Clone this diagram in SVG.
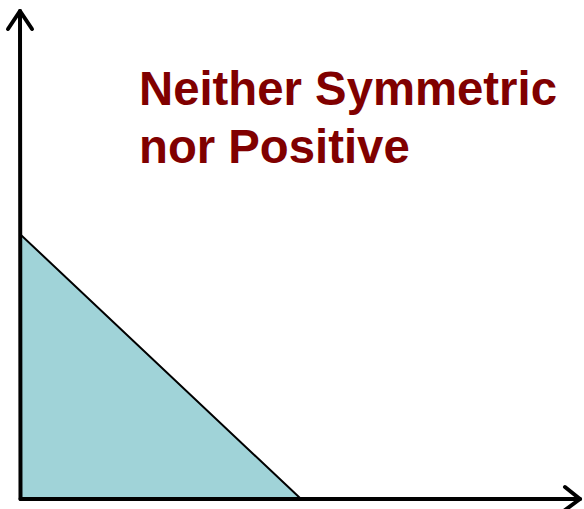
<svg xmlns="http://www.w3.org/2000/svg" width="584" height="509" viewBox="0 0 584 509">
<style>
.axis{fill:none;stroke:#000;stroke-width:4;stroke-linecap:round;stroke-linejoin:round}
.lbl{font-family:"Liberation Sans",Arial,sans-serif;font-weight:bold;font-size:47.3px;fill:#800000}
</style>
<rect width="584" height="509" fill="#fff"/>
<g id="region">
<polygon points="21,235 21,498 300,498" fill="#a0d3d8" stroke="#000" stroke-width="2"/>
</g>
<g id="connectors">
<path class="axis" d="M20.5,499 L20,11"/>
<path class="axis" d="M8,29 L20,11 L32,29"/>
<path class="axis" d="M20.5,499 L580,499"/>
<path class="axis" d="M565,487 L580,499 L565,510"/>
</g>
<g id="title">
<text class="lbl" x="139" y="105">Neither Symmetric</text>
<text class="lbl" x="139" y="163">nor Positive</text>
</g>
</svg>
